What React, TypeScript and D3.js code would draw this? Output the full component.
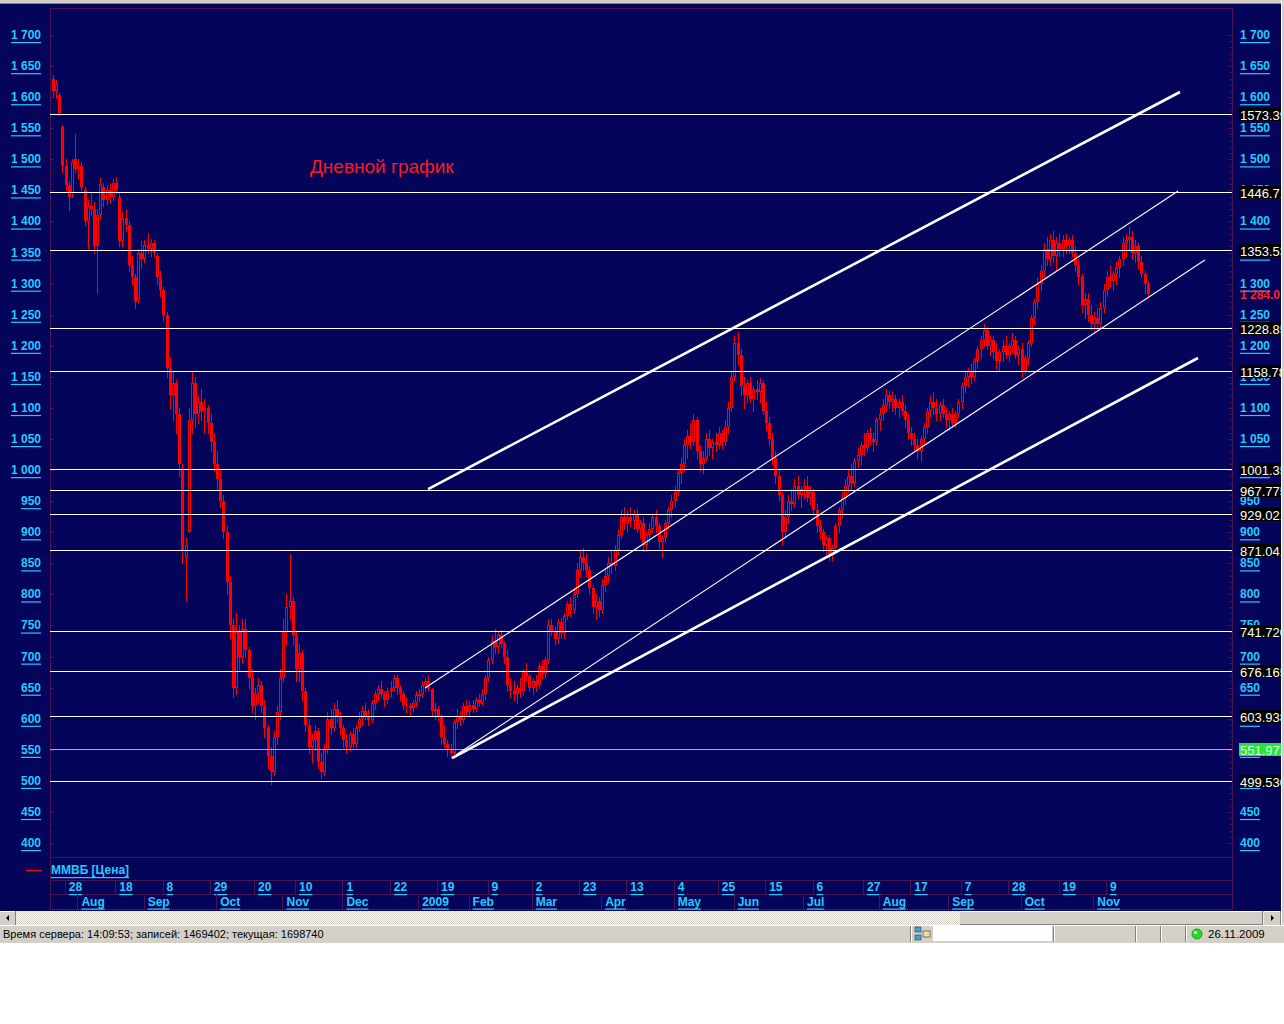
import React from 'react';
import * as d3 from 'd3';

const W = 1284;
const H = 1024;

// ---- price data: daily candles [open, high, low, close] ----
const ohlcJulSep2008: number[][] = [
  [1630,1635,1600,1610],[1610,1628,1598,1620],[1603,1606,1572,1575],[1552,1555,1480,1490],[1490,1500,1450,1458],
  [1458,1465,1418,1440],[1445,1500,1440,1495],[1500,1540,1480,1485],[1485,1500,1470,1490],[1490,1495,1450,1455],
  [1450,1455,1395,1400],[1400,1435,1357,1425],[1425,1445,1410,1420],[1420,1432,1350,1360],[1360,1420,1285,1410],
  [1410,1470,1405,1460],[1455,1462,1425,1435],[1435,1458,1428,1450],[1450,1462,1430,1440],[1440,1468,1435,1462],
  [1462,1472,1445,1450],[1440,1445,1360,1368],[1368,1415,1360,1405],[1405,1420,1385,1395],[1395,1400,1320,1330],
  [1330,1345,1300,1310],[1310,1315,1260,1270],[1275,1355,1270,1350],[1350,1368,1325,1340],[1340,1370,1335,1362],
  [1362,1381,1350,1355],[1355,1372,1345,1365],[1365,1370,1345,1350],[1345,1350,1300,1310],[1310,1320,1280,1290],
  [1290,1295,1240,1250],[1250,1255,1150,1165],[1165,1180,1100,1120],[1120,1160,1080,1140],[1140,1145,1060,1090],
  [1090,1100,990,1010],
];
const ohlcSepNov2008: number[][] = [
  [1000,1010,850,870],[860,890,790,880],[900,1100,900,1080],[1080,1160,1060,1140],[1140,1150,1070,1090],
  [1090,1120,1075,1110],[1110,1130,1080,1095],[1095,1115,1060,1100],[1100,1105,1060,1075],[1075,1090,1030,1045],
  [1045,1060,1000,1010],[1010,1030,970,985],[985,1000,940,950],[950,960,890,900],[900,910,800,820],
  [820,830,730,750],[750,760,635,650],[650,770,640,740],[740,750,680,700],[700,760,690,745],
  [745,760,700,710],[710,715,650,665],[665,680,610,620],[620,650,600,640],[640,665,625,655],
  [655,660,610,620],[620,630,570,585],[585,590,520,540],[540,555,495,515],[515,580,510,570],
  [570,620,560,610],[610,680,600,665],[665,760,660,740],[740,800,720,780],[780,865,760,790],
  [790,795,720,735],[735,740,660,680],[680,720,660,705],[705,710,630,645],[645,650,580,590],
];
const ohlcNov2008Jan2009: number[][] = [
  [590,600,545,555],[555,575,530,565],[565,590,550,580],[580,585,520,530],[530,545,505,515],
  [515,560,510,550],[550,610,545,600],[600,615,575,585],[585,625,580,615],[615,630,595,605],
  [605,610,575,585],[585,590,555,565],[565,575,545,555],[555,580,550,575],[575,585,555,560],
  [560,590,555,585],[585,610,580,600],[600,620,590,612],[612,625,600,605],[605,615,590,598],
  [598,630,595,625],[625,645,615,640],[640,655,630,648],[648,660,635,640],[640,645,620,630],
  [630,650,625,645],[645,660,635,650],[650,670,645,665],[665,670,640,650],[650,655,630,640],
  [640,645,615,622],[622,635,610,620],[620,625,605,618],[618,630,612,625],[625,645,620,638],
  [638,648,628,640],[640,660,635,655],[655,665,645,660],[660,670,645,648],[648,650,605,612],
  [612,625,600,615],[615,620,598,605],
];
const ohlcJanMar2009: number[][] = [
  [605,608,560,570],[570,590,555,560],[560,565,540,550],[550,560,537,545],[545,600,540,595],
  [595,615,585,605],[605,612,590,598],[598,625,595,620],[620,630,605,610],[610,628,605,622],
  [622,630,610,615],[615,635,612,630],[630,640,620,625],[625,648,622,640],[640,670,632,665],
  [665,700,660,695],[695,735,690,725],[725,745,705,715],[715,740,705,735],[735,742,715,720],
  [720,725,690,700],[700,710,645,655],[655,665,635,645],[645,660,630,640],[640,655,625,650],
  [650,665,635,645],[645,680,640,675],[675,690,660,668],[668,672,645,650],[650,665,640,660],
  [660,670,645,655],[655,690,650,685],[685,695,665,672],[672,700,665,695],[695,760,690,750],
  [750,760,735,740],[740,748,720,728],[728,760,722,755],[755,762,730,738],[738,770,730,765],
  [765,790,760,785],[785,795,765,775],[775,810,770,800],[800,850,795,840],[840,870,830,860],
  [860,875,840,850],[850,865,830,840],[840,845,800,810],
];
const ohlcMarJun2009: number[][] = [
  [810,815,770,780],[780,800,760,790],[790,795,765,775],[775,825,770,815],[815,840,805,830],
  [830,860,820,850],[850,870,835,845],[845,880,840,872],[872,905,865,895],[895,935,890,925],
  [925,940,905,915],[915,935,900,925],[925,940,910,918],[918,935,905,930],[930,938,900,905],
  [905,920,890,915],[915,925,870,880],[880,900,870,895],[895,915,885,905],[905,930,900,925],
  [925,935,900,910],[910,915,875,885],[885,895,860,890],[890,920,885,915],[915,940,905,935],
  [935,960,925,950],[950,975,940,965],[965,1000,960,995],[995,1020,980,1010],[1010,1050,1000,1040],
  [1040,1065,1020,1055],[1055,1075,1035,1045],[1045,1090,1040,1080],[1080,1085,1020,1030],[1030,1040,1000,1010],
  [1010,1030,995,1020],[1020,1060,1015,1050],[1050,1065,1025,1035],[1035,1050,1020,1045],[1045,1060,1030,1040],
  [1040,1070,1035,1060],[1060,1065,1035,1045],[1045,1080,1040,1070],[1070,1110,1060,1100],[1100,1160,1095,1150],
  [1150,1215,1145,1205],[1205,1222,1170,1185],[1185,1195,1120,1135],[1135,1150,1100,1120],[1120,1145,1110,1140],
  [1140,1150,1110,1115],[1115,1135,1095,1130],[1130,1145,1115,1125],[1125,1148,1110,1140],[1140,1145,1090,1095],
  [1095,1110,1065,1075],[1075,1085,1040,1050],[1050,1060,1010,1020],[1020,1030,980,990],[990,1000,950,960],
];
const ohlcJunSep2009: number[][] = [
  [960,965,880,900],[900,935,890,925],[925,960,915,950],[950,970,935,945],[945,985,940,975],
  [975,990,955,960],[960,975,940,970],[970,985,955,975],[975,990,950,955],[955,975,945,965],
  [965,970,930,935],[935,945,900,910],[910,920,890,900],[900,905,870,880],[880,895,865,890],
  [890,895,855,865],[865,880,855,875],[875,915,870,910],[910,940,900,935],[935,965,925,955],
  [955,985,945,975],[975,1000,965,990],[990,1010,970,980],[980,1020,975,1015],[1015,1035,1005,1025],
  [1025,1045,1010,1040],[1040,1060,1025,1035],[1035,1065,1030,1060],[1060,1070,1040,1050],[1050,1060,1030,1045],
  [1045,1085,1040,1080],[1080,1100,1065,1090],[1090,1115,1080,1105],[1105,1130,1095,1120],[1120,1128,1100,1110],
  [1110,1125,1095,1115],[1115,1120,1090,1100],[1100,1115,1085,1110],[1110,1120,1090,1095],[1095,1105,1070,1080],
  [1080,1090,1050,1060],[1060,1070,1040,1050],[1050,1060,1030,1040],[1040,1050,1020,1030],[1030,1055,1015,1050],
  [1050,1075,1040,1070],[1070,1100,1060,1095],[1095,1120,1085,1110],[1110,1125,1090,1100],[1100,1115,1080,1090],
  [1090,1110,1080,1105],[1105,1115,1085,1090],[1090,1100,1070,1080],[1080,1095,1065,1090],[1090,1100,1070,1075],
  [1075,1095,1070,1090],[1090,1115,1085,1110],[1110,1140,1100,1135],[1135,1160,1125,1150],[1150,1165,1135,1160],
];
const ohlcSepNov2009: number[][] = [
  [1160,1170,1140,1150],[1150,1180,1145,1175],[1175,1200,1165,1195],[1195,1215,1180,1210],[1210,1235,1200,1225],
  [1225,1230,1195,1200],[1200,1215,1185,1210],[1210,1215,1180,1190],[1190,1205,1165,1175],[1175,1195,1160,1190],
  [1190,1210,1175,1200],[1200,1215,1180,1185],[1185,1205,1175,1200],[1200,1220,1190,1210],[1210,1215,1180,1185],
  [1185,1200,1170,1195],[1195,1205,1150,1160],[1160,1185,1155,1180],[1180,1210,1170,1205],[1205,1250,1200,1245],
  [1245,1275,1235,1270],[1270,1310,1260,1300],[1300,1330,1290,1320],[1320,1365,1310,1355],[1355,1375,1330,1340],
  [1340,1380,1330,1370],[1370,1385,1335,1345],[1345,1375,1320,1365],[1365,1380,1345,1355],[1355,1378,1345,1370],
  [1370,1380,1350,1360],[1360,1375,1350,1370],[1370,1378,1345,1350],[1350,1360,1320,1330],[1330,1340,1300,1310],
  [1310,1315,1255,1265],[1265,1285,1245,1275],[1275,1285,1240,1250],[1250,1265,1225,1235],[1235,1255,1220,1245],
  [1245,1260,1225,1235],[1235,1270,1230,1260],[1260,1300,1255,1290],[1290,1320,1280,1310],[1310,1330,1295,1305],
  [1305,1320,1290,1315],[1315,1335,1300,1325],[1325,1345,1310,1340],[1340,1375,1330,1365],[1365,1380,1345,1370],
  [1370,1392,1355,1375],[1375,1385,1340,1350],[1350,1370,1335,1360],[1360,1365,1325,1335],[1335,1345,1310,1315],
  [1315,1320,1285,1300],[1300,1305,1278,1284],
];

// ---- axis / labels ----
const priceTicks = d3.range(400, 1701, 50);
const levelValues = [1573.39, 1446.71, 1353.53, 1228.85, 1158.78, 1001.35, 967.775, 929.021, 871.041, 741.72, 676.165, 603.938, 499.53];
const levelLabels = ['1573.39', '1446.71', '1353.53', '1228.85', '1158.78', '1001.35', '967.775', '929.021', '871.041', '741.720', '676.165', '603.938', '499.530'];
const supportValue = 551.97;
const supportLabel = '551.972';
const lastPrice = 1284.0;
const lastPriceLabel = '1 284.0';

const dayTickIdx = [5, 21, 36, 51, 65, 78, 93, 108, 123, 139, 153, 168, 183, 198, 212, 227, 242, 258, 273, 289, 304, 320, 335];
const dayTickLabels = ['28', '18', '8', '29', '20', '10', '1', '22', '19', '9', '2', '23', '13', '4', '25', '15', '6', '27', '17', '7', '28', '19', '9'];
const monthTickIdx = [9, 30, 53, 74, 93, 117, 133, 153, 175, 198, 217, 239, 263, 285, 308, 331];
const monthTickLabels = ['Aug', 'Sep', 'Oct', 'Nov', 'Dec', '2009', 'Feb', 'Mar', 'Apr', 'May', 'Jun', 'Jul', 'Aug', 'Sep', 'Oct', 'Nov'];

// trend lines: [barIndex1, price1, barIndex2, price2]
const channelThick: number[][] = [
  [118.9, 969.5, 357.2, 1608.3],
  [126.5, 536.7, 362.9, 1180.3],
];
const channelThin: number[][] = [
  [117.9, 649.3, 356.6, 1449.0],
  [127.7, 541.5, 365.1, 1338.0],
];

const titleText = 'Дневной график';
const legendText = 'ММВБ [Цена]';
const statusText = 'Время сервера: 14:09:53; записей: 1469402; текущая: 1698740';
const statusDate = '26.11.2009';

const candles = [
  ...ohlcJulSep2008, ...ohlcSepNov2008, ...ohlcNov2008Jan2009, ...ohlcJanMar2009,
  ...ohlcMarJun2009, ...ohlcJunSep2009, ...ohlcSepNov2009,
];

const BG = '#03045a';
const RED = '#ff0000';
const CYAN = '#22ccff';
const MAROON = '#4a1450';
const GRAY = '#d4d0c8';

const fmtTick = (v: number) => (v >= 1000 ? `${Math.floor(v / 1000)} ${String(v % 1000).padStart(3, '0')}` : String(v));

export default function App() {
  const PLOT_L = 50, PLOT_R = 1232, PLOT_T = 8, PLOT_B = 857;
  const x = d3.scaleLinear().domain([0, 347]).range([53, 53 + 347 * 3.155]);
  const y = d3.scaleLinear().domain([400, 1700]).range([843, 35]);

  const axisFont = { fontFamily: 'Liberation Sans, Arial, sans-serif', fontWeight: 700, fontSize: 12 } as const;
  const minorTicks = d3.range(400, 1701, 10);

  return (
    <div style={{ position: 'absolute', left: 0, top: 0, width: W, height: H }}>
      <svg width={W} height={H} viewBox={`0 0 ${W} ${H}`} style={{ display: 'block' }}>
        <defs>
          <pattern id="hatch" width="2" height="2" patternUnits="userSpaceOnUse">
            <rect width="2" height="2" fill="#ffffff" />
            <rect width="1" height="1" fill={GRAY} />
            <rect x="1" y="1" width="1" height="1" fill={GRAY} />
          </pattern>
          <clipPath id="winclip">
            <rect x={0} y={0} width={1281} height={H} />
          </clipPath>
        </defs>
        <rect width={W} height={H} fill="#ffffff" />
        <rect x={0} y={0} width={1281} height={911} fill={BG} />
        <rect x={0} y={0} width={1284} height={3} fill={GRAY} />
        <line x1={0} x2={1281} y1={3.5} y2={3.5} stroke="#808080" />

        {/* plot frame */}
        <rect x={PLOT_L + 0.5} y={PLOT_T + 0.5} width={PLOT_R - PLOT_L} height={PLOT_B - PLOT_T} fill="none" stroke={MAROON} strokeWidth={1} />
        {minorTicks.map((v) => (
          <g key={`mt${v}`}>
            <line x1={PLOT_L} x2={PLOT_L + (v % 50 === 0 ? 4 : 2)} y1={Math.round(y(v)) + 0.5} y2={Math.round(y(v)) + 0.5} stroke={MAROON} />
            <line x1={PLOT_R - (v % 50 === 0 ? 4 : 2)} x2={PLOT_R} y1={Math.round(y(v)) + 0.5} y2={Math.round(y(v)) + 0.5} stroke={MAROON} />
          </g>
        ))}

        {/* legend row and date rows */}
        <line x1={PLOT_L} x2={PLOT_R} y1={880.5} y2={880.5} stroke={MAROON} />
        <line x1={PLOT_L} x2={PLOT_R} y1={894.5} y2={894.5} stroke={MAROON} />
        <line x1={PLOT_L} x2={PLOT_R} y1={909.5} y2={909.5} stroke={MAROON} />
        <line x1={PLOT_L + 0.5} x2={PLOT_L + 0.5} y1={857} y2={910} stroke={MAROON} />
        <line x1={PLOT_R + 0.5} x2={PLOT_R + 0.5} y1={857} y2={910} stroke={MAROON} />
        <line x1={26} x2={42} y1={870.5} y2={870.5} stroke={RED} strokeWidth={1.5} />
        <text x={51} y={870} dominantBaseline="central" fill={CYAN} textDecoration="underline" {...axisFont}>{legendText}</text>

        {dayTickIdx.map((d, k) => (
          <g key={`d${k}`}>
            <line x1={Math.round(x(d)) - 3.5} x2={Math.round(x(d)) - 3.5} y1={880} y2={894} stroke={MAROON} />
            <text x={x(d)} y={887} dominantBaseline="central" fill={CYAN} textDecoration="underline" {...axisFont}>{dayTickLabels[k]}</text>
          </g>
        ))}
        {monthTickIdx.map((d, k) => (
          <g key={`m${k}`}>
            <line x1={Math.round(x(d)) - 3.5} x2={Math.round(x(d)) - 3.5} y1={894} y2={909} stroke={MAROON} />
            <text x={x(d)} y={901.5} dominantBaseline="central" fill={CYAN} textDecoration="underline" {...axisFont}>{monthTickLabels[k]}</text>
          </g>
        ))}

        {/* price axis labels */}
        {priceTicks.map((v) => (
          <g key={`t${v}`}>
            <text x={41} y={y(v)} textAnchor="end" dominantBaseline="central" fill={CYAN} textDecoration="underline" {...axisFont}>{fmtTick(v)}</text>
            <text x={1240} y={y(v)} textAnchor="start" dominantBaseline="central" fill={CYAN} textDecoration="underline" {...axisFont}>{fmtTick(v)}</text>
          </g>
        ))}

        {/* title */}
        <text x={310} y={166} dominantBaseline="central" fill="#ff1a1a" fontFamily="Liberation Sans, Arial, sans-serif" fontSize={19}>{titleText}</text>

        {/* candles */}
        {candles.map(([o, h, l, c], i) => {
          const cx = Math.round(x(i));
          const up = c >= o;
          const yT = Math.round(y(Math.max(o, c)));
          const yB = Math.round(y(Math.min(o, c)));
          const bh = Math.max(1, yB - yT);
          return (
            <g key={`c${i}`}>
              <line x1={cx + 0.5} x2={cx + 0.5} y1={Math.round(y(h))} y2={Math.round(y(l)) + 1} stroke={RED} strokeWidth={1} />
              {up ? (
                <rect x={cx - 1 + 0.5} y={yT + 0.5} width={2} height={Math.max(1, bh - 1)} fill={BG} stroke={RED} strokeWidth={1} />
              ) : (
                <rect x={cx - 1} y={yT} width={3} height={bh} fill={RED} />
              )}
            </g>
          );
        })}

        {/* horizontal levels */}
        {levelValues.map((v, k) => (
          <line key={`lv${k}`} x1={PLOT_L} x2={PLOT_R} y1={Math.round(y(v)) + 0.5} y2={Math.round(y(v)) + 0.5} stroke="#ffffff" strokeWidth={1} />
        ))}
        <line x1={PLOT_L} x2={PLOT_R} y1={Math.round(y(supportValue)) + 0.5} y2={Math.round(y(supportValue)) + 0.5} stroke="#40e890" strokeWidth={1} />

        {/* channel lines */}
        {channelThick.map(([i1, v1, i2, v2], k) => (
          <line key={`ct${k}`} x1={x(i1)} y1={y(v1)} x2={x(i2)} y2={y(v2)} stroke="#ffffff" strokeWidth={2.6} />
        ))}
        {channelThin.map(([i1, v1, i2, v2], k) => (
          <line key={`cn${k}`} x1={x(i1)} y1={y(v1)} x2={x(i2)} y2={y(v2)} stroke="#ffffff" strokeWidth={1.1} />
        ))}

        {/* right-side level labels */}
        <g clipPath="url(#winclip)">
          {levelValues.map((v, k) => {
            const ly = Math.round(y(v));
            return (
              <g key={`lb${k}`}>
                <rect x={1239} y={ly - 6} width={45} height={13} fill="#000000" />
                <text x={1240} y={ly + 1} dominantBaseline="central" fill="#ffffff" fontFamily="Liberation Sans, Arial, sans-serif" fontSize={13}>{levelLabels[k]}</text>
              </g>
            );
          })}
          <rect x={1239} y={Math.round(y(supportValue)) - 6} width={45} height={13} fill="#22e63a" />
          <text x={1240} y={Math.round(y(supportValue)) + 1} dominantBaseline="central" fill="#eaffea" fontFamily="Liberation Sans, Arial, sans-serif" fontSize={13}>{supportLabel}</text>
          <text x={1240} y={y(lastPrice) + 1} dominantBaseline="central" fill="#ff2020" {...axisFont}>{lastPriceLabel}</text>
        </g>

        {/* window right border */}
        <rect x={1281} y={0} width={3} height={925} fill={GRAY} />
        <line x1={1281.5} x2={1281.5} y1={0} y2={925} stroke="#ffffff" />

        {/* scrollbar */}
        <rect x={0} y={911} width={1281} height={14} fill="url(#hatch)" />
        <rect x={960} y={911} width={303} height={14} fill={GRAY} />
        <line x1={960} x2={1263} y1={911.5} y2={911.5} stroke="#ffffff" />
        <line x1={960} x2={1263} y1={924.5} y2={924.5} stroke="#808080" />
        <line x1={1262.5} x2={1262.5} y1={911} y2={925} stroke="#808080" />
        <rect x={0} y={911} width={16} height={14} fill={GRAY} />
        <line x1={0} x2={16} y1={911.5} y2={911.5} stroke="#ffffff" />
        <line x1={15.5} x2={15.5} y1={911} y2={925} stroke="#808080" />
        <path d="M6,918 L9,915 L9,921 Z" fill="#000" />
        <rect x={1264} y={911} width={17} height={14} fill={GRAY} />
        <line x1={1264} x2={1281} y1={911.5} y2={911.5} stroke="#ffffff" />
        <line x1={1280.5} x2={1280.5} y1={911} y2={925} stroke="#808080" />
        <path d="M1274,918 L1271,915 L1271,921 Z" fill="#000" />

        {/* status bar */}
        <rect x={0} y={925} width={W} height={18} fill={GRAY} />
        <line x1={0} x2={W} y1={925.5} y2={925.5} stroke="#ffffff" />
        <text x={3} y={934} dominantBaseline="central" fill="#000" fontFamily="Liberation Sans, Arial, sans-serif" fontSize={11}>{statusText}</text>
        {[910, 1053, 1135, 1160, 1185].map((sx) => (
          <g key={`sp${sx}`}>
            <line x1={sx + 0.5} x2={sx + 0.5} y1={926} y2={942} stroke="#808080" />
            <line x1={sx + 1.5} x2={sx + 1.5} y1={926} y2={942} stroke="#ffffff" />
          </g>
        ))}
        <rect x={933} y={926} width={119} height={15} fill="#ffffff" />
        <rect x={915} y={927} width={6} height={5} fill="#4aa0c8" stroke="#204060" strokeWidth={0.6} />
        <rect x={915} y={935} width={6} height={5} fill="#4aa0c8" stroke="#204060" strokeWidth={0.6} />
        <rect x={923} y={931} width={7} height={6} fill="#e8e0a0" stroke="#303030" strokeWidth={0.6} />
        <circle cx={1197} cy={934} r={5} fill="#22dd22" stroke="#118811" strokeWidth={0.8} />
        <circle cx={1195.5} cy={932.5} r={1.8} fill="#a8ffa8" />
        <text x={1208} y={934} dominantBaseline="central" fill="#000" fontFamily="Liberation Sans, Arial, sans-serif" fontSize={11.5}>{statusDate}</text>
      </svg>
    </div>
  );
}
